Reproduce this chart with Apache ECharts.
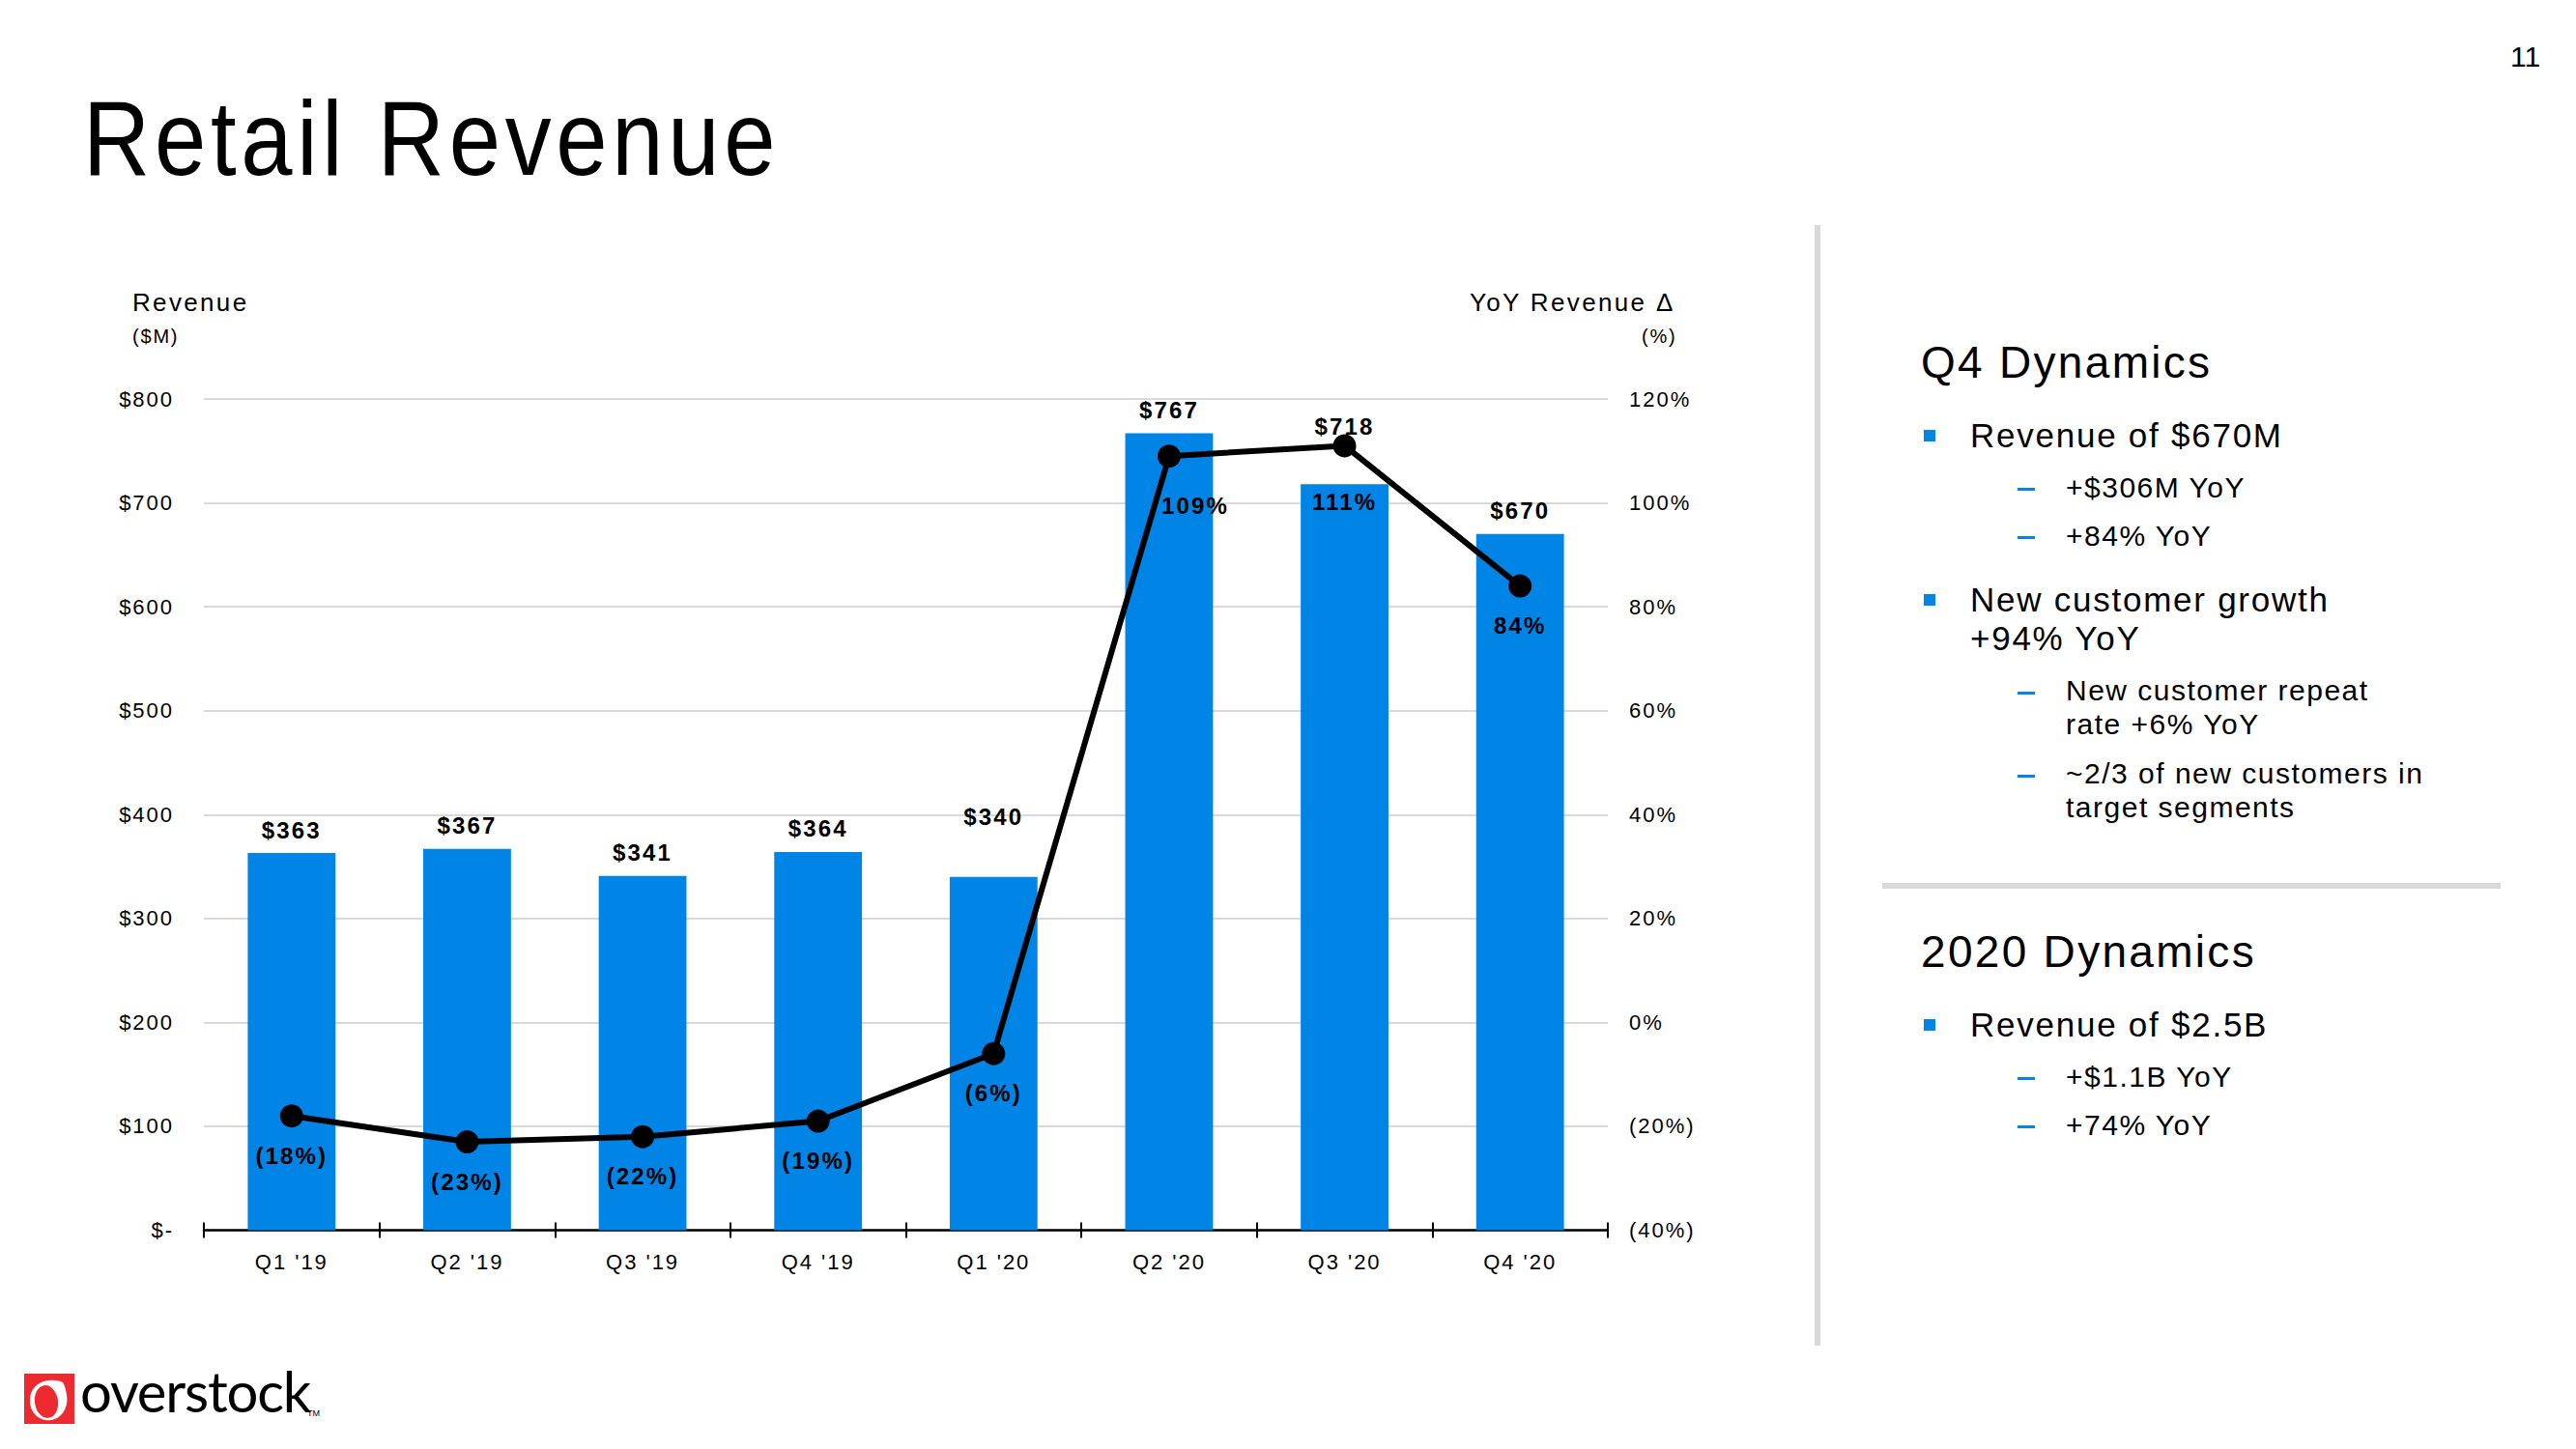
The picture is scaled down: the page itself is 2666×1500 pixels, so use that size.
<!DOCTYPE html>
<html>
<head>
<meta charset="utf-8">
<script src="https://cdn.jsdelivr.net/npm/echarts@6/dist/echarts.min.js"></script>
<style>
  html, body { margin: 0; padding: 0; background: #fff; }
  body { width: 2666px; height: 1500px; position: relative; overflow: hidden; font-family: "Liberation Sans", Arial, sans-serif; color: #000; }
  #chart { position: absolute; left: 0; top: 0; width: 2666px; height: 1500px; }
  #chart text { letter-spacing: 0.09em; }
  .abs { position: absolute; white-space: nowrap; }
  #title { left: 86px; top: 78px; font-size: 110px; line-height: 130px; letter-spacing: 0.05em; transform: scaleX(0.87); transform-origin: left top; }
  .pn { left: 2598px; top: 42px; font-size: 30px; }
  .vline { left: 1878px; top: 233px; width: 6px; height: 1160px; background: #d9d9d9; }
  .hline { left: 1948px; top: 914px; width: 640px; height: 6px; background: #d9d9d9; }
  .h2 { font-size: 46px; letter-spacing: 0.05em; }
  .b1 { font-size: 35px; letter-spacing: 0.05em; line-height: 40px; }
  .b2 { font-size: 30px; letter-spacing: 0.05em; line-height: 35px; }
  .sq { width: 12px; height: 12px; background: #0085E6; }
  .dash { width: 18px; height: 3px; background: #0085E6; }
  .logo { left: 83px; top: 1405px; font-family: Lato, "Open Sans", "Liberation Sans", sans-serif; font-weight: 400; font-size: 58px; letter-spacing: -0.02em; }
  .tm { left: 318px; top: 1458px; font-size: 9px; font-family: "Liberation Sans", sans-serif; }
</style>
</head>
<body>
<div id="chart"></div>

<div id="title" class="abs">Retail Revenue</div>
<div class="abs pn">11</div>
<div class="abs vline"></div>
<div class="abs hline"></div>

<div class="abs h2" style="left:1988px; top:348px;">Q4 Dynamics</div>
<div class="abs sq" style="left:1991px; top:445px;"></div>
<div class="abs b1" style="left:2039px; top:431px;">Revenue of $670M</div>
<div class="abs dash" style="left:2088px; top:505px;"></div>
<div class="abs b2" style="left:2138px; top:487px;">+$306M YoY</div>
<div class="abs dash" style="left:2088px; top:555px;"></div>
<div class="abs b2" style="left:2138px; top:537px;">+84% YoY</div>

<div class="abs sq" style="left:1991px; top:615px;"></div>
<div class="abs b1" style="left:2039px; top:601px;">New customer growth<br>+94% YoY</div>
<div class="abs dash" style="left:2088px; top:716px;"></div>
<div class="abs b2" style="left:2138px; top:697px; line-height:35px;">New customer repeat<br>rate +6% YoY</div>
<div class="abs dash" style="left:2088px; top:802px;"></div>
<div class="abs b2" style="left:2138px; top:783px; line-height:35px;">~2/3 of new customers in<br>target segments</div>

<div class="abs h2" style="left:1988px; top:958px;">2020 Dynamics</div>
<div class="abs sq" style="left:1991px; top:1055px;"></div>
<div class="abs b1" style="left:2039px; top:1041px;">Revenue of $2.5B</div>
<div class="abs dash" style="left:2088px; top:1115px;"></div>
<div class="abs b2" style="left:2138px; top:1097px;">+$1.1B YoY</div>
<div class="abs dash" style="left:2088px; top:1165px;"></div>
<div class="abs b2" style="left:2138px; top:1147px;">+74% YoY</div>

<svg class="abs" style="left:25px; top:1422px;" width="52" height="52" viewBox="0 0 52 52">
  <rect x="0" y="0" width="52" height="52" fill="#EE2A31"/>
  <path d="M40 9 C 30 4, 8 6, 6 26 C 5 42, 18 50, 28 48 C 40 46, 46 34, 44 22 C 43 16, 42 12, 40 9 Z" fill="#fff"/>
  <ellipse cx="23" cy="29" rx="12" ry="17" fill="#EE2A31" transform="rotate(-8 23 29)"/>
</svg>
<div class="abs logo">overstock</div>
<div class="abs tm">TM</div>

<script>
const categories = ["Q1 '19", "Q2 '19", "Q3 '19", "Q4 '19", "Q1 '20", "Q2 '20", "Q3 '20", "Q4 '20"];
const revenue = [363, 367, 341, 364, 340, 767, 718, 670];
const yoyGrowth = [-18, -23, -22, -19, -6, 109, 111, 84];
const revenueAxis = { min: 0, max: 800, step: 100 };
const yoyAxis = { min: -40, max: 120, step: 20 };

const BLUE = '#0085E6';
const FONT = '"Liberation Sans", Arial, sans-serif';

const fmtMoney = v => (v === 0 ? '$-' : '$' + v);
const fmtPct = v => (v < 0 ? '(' + (-v) + '%)' : v + '%');

// label nudges (style only)
const barLabelShift = { 4: [0, -38], 6: [0, -36] };
const lineLabelShift = { 5: [27, 10], 6: [0, 17] };

const barData = revenue.map((v, i) => {
  const d = { value: v };
  if (barLabelShift[i]) d.label = { offset: barLabelShift[i] };
  return d;
});
const lineData = yoyGrowth.map((v, i) => {
  const d = { value: v };
  if (lineLabelShift[i]) d.label = { offset: lineLabelShift[i] };
  return d;
});

const chart = echarts.init(document.getElementById('chart'), null, { renderer: 'svg', width: 2666, height: 1500 });

chart.setOption({
  animation: false,
  backgroundColor: 'transparent',
  textStyle: { fontFamily: FONT },
  grid: { left: 211, right: 1002, top: 413, bottom: 226.5, containLabel: false },
  xAxis: [
    {
      type: 'category',
      data: categories,
      position: 'bottom',
      boundaryGap: true,
      axisLine: { show: true, onZero: false, lineStyle: { color: '#000', width: 2.5 } },
      axisTick: { show: true, length: 8, interval: 0, lineStyle: { color: '#000', width: 2 } },
      axisLabel: { margin: 22, fontSize: 22, color: '#000', fontFamily: FONT, interval: 0 },
      splitLine: { show: false }
    },
    {
      type: 'category',
      data: categories,
      position: 'bottom',
      boundaryGap: true,
      axisLine: { show: false, onZero: false },
      axisTick: { show: true, inside: true, length: 8, interval: 0, lineStyle: { color: '#000', width: 2 } },
      axisLabel: { show: false },
      splitLine: { show: false }
    }
  ],
  yAxis: [
    {
      type: 'value',
      min: revenueAxis.min, max: revenueAxis.max, interval: revenueAxis.step,
      position: 'left',
      axisLine: { show: false },
      axisTick: { show: false },
      axisLabel: { margin: 31, fontSize: 22, color: '#000', fontFamily: FONT, formatter: fmtMoney },
      splitLine: { show: true, lineStyle: { color: '#D9D9D9', width: 2 } }
    },
    {
      type: 'value',
      min: yoyAxis.min, max: yoyAxis.max, interval: yoyAxis.step,
      position: 'right',
      axisLine: { show: false },
      axisTick: { show: false },
      axisLabel: { margin: 22, fontSize: 22, color: '#000', fontFamily: FONT, formatter: fmtPct },
      splitLine: { show: false }
    }
  ],
  graphic: [
    { type: 'text', left: 137, top: 300, style: { text: 'Revenue', font: '26px ' + FONT, fill: '#000' } },
    { type: 'text', left: 137, top: 338, style: { text: '($M)', font: '20px ' + FONT, fill: '#000' } },
    { type: 'text', left: 1521, top: 300, style: { text: 'YoY Revenue Δ', font: '26px ' + FONT, fill: '#000' } },
    { type: 'text', left: 1699, top: 338, style: { text: '(%)', font: '20px ' + FONT, fill: '#000' } }
  ],
  series: [
    {
      name: 'Revenue',
      type: 'bar',
      xAxisIndex: 0,
      yAxisIndex: 0,
      data: barData,
      barWidth: '50%',
      itemStyle: { color: BLUE },
      label: {
        show: true, position: 'top', distance: 12,
        fontSize: 24, fontWeight: 'bold', color: '#000', fontFamily: FONT,
        formatter: p => '$' + p.value
      },
      z: 2
    },
    {
      name: 'YoY Revenue Δ',
      type: 'line',
      xAxisIndex: 0,
      yAxisIndex: 1,
      data: lineData,
      symbol: 'circle',
      symbolSize: 24,
      itemStyle: { color: '#000' },
      lineStyle: { color: '#000', width: 6 },
      label: {
        show: true, position: 'bottom', distance: 17,
        fontSize: 24, fontWeight: 'bold', color: '#000', fontFamily: FONT,
        formatter: p => fmtPct(p.value)
      },
      z: 3
    }
  ]
});
</script>
</body>
</html>
